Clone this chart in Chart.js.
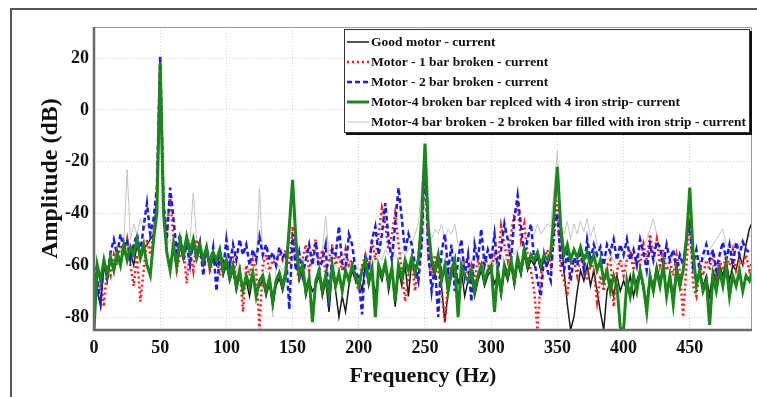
<!DOCTYPE html>
<html>
<head>
<meta charset="utf-8">
<script src="https://cdn.jsdelivr.net/npm/chart.js@4.4.1/dist/chart.umd.min.js"></script>
<style>
  html, body { margin: 0; padding: 0; background: #fff; }
  #wrap { position: relative; width: 757px; height: 397px; overflow: hidden; }
  #frame { position: absolute; left: 10px; top: 8px; width: 800px; height: 420px;
           border-left: 2px solid #555; border-top: 2px solid #555; }
  canvas { position: absolute; left: 0; top: 0; }
</style>
</head>
<body>
<div id="wrap">
  <div id="frame"></div>
  <canvas id="spectrum" width="757" height="397"></canvas>
</div>
<script>
// spectrum sampled every 2.5 Hz, starting at 0 Hz
const FREQ_STEP = 2.5;

const labels = [
  "Good motor - current",
  "Motor - 1 bar broken - current",
  "Motor - 2 bar broken - current",
  "Motor-4 broken bar replced with 4 iron strip- current",
  "Motor-4 bar broken - 2 broken bar filled with iron strip - current"
];

const xTicks = [0, 50, 100, 150, 200, 250, 300, 350, 400, 450];
const yTicks = [-80, -60, -40, -20, 0, 20];

// amplitudes in dB, one row = 50 Hz
const goodMotor = [
  -62,-70,-76,-60,-66,-58,-62,-56,-60,-54,-58,-55,-60,-52,-58,-54,-52,-50,-48,-35,
  18,-40,-56,-60,-54,-62,-52,-58,-51,-56,-52,-58,-54,-60,-55,-62,-57,-60,-56,-64,
  -60,-66,-62,-70,-64,-68,-66,-72,-64,-70,-68,-66,-72,-67,-76,-68,-65,-70,-64,-48,
  -30,-52,-66,-62,-72,-66,-70,-68,-64,-72,-66,-78,-62,-70,-80,-72,-78,-68,-62,-66,
  -64,-70,-60,-68,-62,-72,-62,-66,-60,-70,-62,-76,-62,-68,-60,-72,-58,-64,-56,-42,
  -16,-48,-60,-64,-58,-68,-82,-70,-64,-60,-67,-62,-72,-66,-64,-72,-66,-62,-68,-64,
  -62,-67,-64,-72,-62,-66,-60,-68,-59,-64,-56,-62,-58,-60,-57,-62,-58,-60,-56,-42,
  -24,-48,-62,-75,-85,-80,-70,-62,-66,-60,-68,-62,-70,-78,-85,-70,-66,-72,-64,-70,
  -66,-70,-64,-72,-66,-62,-70,-74,-64,-68,-60,-66,-62,-70,-64,-72,-60,-66,-62,-52,
  -32,-56,-66,-62,-68,-64,-72,-62,-66,-60,-64,-58,-66,-60,-62,-56,-60,-52,-46,-43
];

const oneBar = [
  -62,-70,-66,-76,-60,-64,-56,-60,-52,-56,-50,-60,-68,-56,-74,-62,-50,-56,-48,-34,
  19,-38,-48,-33,-50,-62,-56,-52,-67,-54,-62,-50,-56,-60,-54,-62,-58,-56,-64,-58,
  -60,-62,-56,-66,-62,-78,-60,-64,-58,-62,-85,-60,-56,-62,-58,-60,-55,-58,-54,-60,
  -45,-60,-66,-58,-52,-62,-56,-50,-60,-54,-64,-58,-52,-60,-56,-62,-54,-60,-58,-66,
  -70,-60,-56,-62,-50,-58,-48,-38,-44,-54,-48,-40,-52,-62,-74,-64,-58,-70,-60,-50,
  -18,-58,-64,-56,-62,-70,-82,-66,-60,-64,-78,-62,-58,-64,-60,-66,-58,-62,-56,-60,
  -62,-56,-60,-45,-52,-58,-48,-40,-37,-50,-44,-56,-62,-70,-85,-64,-58,-54,-60,-50,
  -35,-62,-66,-72,-60,-58,-64,-56,-60,-66,-58,-62,-74,-64,-70,-60,-58,-76,-62,-58,
  -64,-58,-54,-62,-56,-60,-52,-58,-48,-56,-50,-60,-54,-62,-58,-64,-56,-62,-80,-60,
  -42,-68,-72,-60,-64,-58,-62,-56,-64,-58,-62,-56,-60,-54,-62,-58,-60,-56,-62,-58
];

const twoBar = [
  -60,-66,-74,-58,-65,-55,-50,-56,-48,-54,-50,-58,-52,-48,-55,-45,-36,-48,-42,-30,
  21,-35,-50,-30,-42,-55,-48,-58,-52,-60,-50,-56,-51,-64,-54,-60,-53,-70,-56,-62,
  -50,-60,-52,-58,-50,-56,-52,-60,-54,-58,-49,-56,-52,-58,-55,-60,-53,-57,-55,-77,
  -48,-62,-55,-64,-58,-52,-60,-51,-62,-58,-52,-76,-54,-56,-45,-60,-62,-48,-52,-62,
  -66,-79,-56,-62,-50,-45,-56,-48,-36,-50,-58,-44,-30,-42,-55,-48,-52,-60,-66,-52,
  -18,-55,-70,-60,-80,-55,-48,-62,-52,-70,-58,-50,-64,-56,-74,-52,-58,-46,-60,-54,
  -58,-48,-62,-54,-44,-50,-58,-42,-33,-45,-56,-50,-44,-58,-66,-72,-56,-62,-66,-45,
  -40,-58,-62,-55,-66,-57,-60,-54,-62,-50,-58,-52,-56,-53,-60,-52,-55,-50,-58,-52,
  -56,-50,-58,-54,-60,-50,-55,-62,-52,-58,-51,-53,-60,-52,-58,-54,-62,-56,-60,-50,
  -44,-60,-54,-62,-56,-52,-58,-54,-62,-56,-51,-58,-52,-60,-51,-56,-51,-54,-55,-56
];

const ironStrip = [
  -85,-60,-66,-58,-64,-57,-62,-55,-60,-52,-58,-53,-56,-50,-57,-52,-60,-64,-50,-40,
  18,-40,-55,-62,-52,-60,-50,-56,-49,-55,-50,-57,-52,-58,-53,-60,-55,-58,-54,-62,
  -58,-65,-60,-68,-62,-70,-64,-68,-63,-72,-66,-64,-70,-65,-74,-66,-63,-68,-62,-45,
  -27,-50,-64,-60,-70,-65,-82,-66,-62,-70,-64,-72,-60,-68,-63,-70,-62,-66,-60,-64,
  -68,-62,-58,-66,-61,-80,-60,-64,-59,-67,-61,-74,-60,-65,-58,-62,-57,-63,-58,-42,
  -13,-45,-58,-62,-56,-66,-60,-70,-62,-58,-80,-60,-64,-66,-62,-70,-64,-60,-66,-62,
  -60,-78,-62,-70,-60,-64,-58,-66,-57,-62,-54,-60,-56,-58,-55,-60,-56,-58,-55,-40,
  -22,-45,-56,-52,-58,-54,-57,-53,-58,-55,-60,-56,-62,-58,-66,-62,-70,-64,-68,-84,
  -85,-66,-72,-64,-70,-62,-68,-78,-64,-70,-62,-68,-60,-72,-64,-75,-62,-68,-62,-50,
  -30,-55,-68,-62,-70,-66,-83,-64,-70,-62,-68,-60,-72,-64,-68,-62,-70,-64,-66,-62
];

const ironFilled = [
  -64,-62,-66,-60,-62,-58,-60,-56,-54,-52,-23,-50,-44,-48,-42,-46,-44,-48,-46,-30,
  16,-38,-52,-50,-54,-52,-56,-54,-52,-50,-32,-50,-54,-56,-55,-58,-56,-58,-57,-60,
  -58,-60,-59,-62,-60,-62,-60,-63,-61,-60,-30,-58,-62,-64,-80,-62,-60,-62,-60,-45,
  -28,-52,-60,-58,-62,-60,-58,-60,-56,-54,-41,-56,-62,-60,-62,-58,-60,-58,-62,-60,
  -62,-60,-58,-62,-60,-58,-56,-58,-54,-56,-52,-56,-58,-55,-56,-54,-52,-48,-44,-30,
  -15,-46,-50,-46,-48,-44,-50,-46,-48,-44,-52,-56,-58,-60,-58,-56,-58,-60,-58,-60,
  -58,-60,-58,-56,-58,-56,-54,-56,-54,-52,-54,-52,-50,-48,-44,-48,-46,-44,-45,-30,
  -16,-44,-48,-43,-50,-44,-48,-43,-47,-42,-49,-45,-52,-54,-56,-58,-56,-58,-60,-58,
  -60,-58,-56,-58,-56,-54,-52,-50,-46,-42,-48,-54,-56,-58,-56,-58,-60,-58,-56,-46,
  -34,-54,-58,-56,-58,-56,-54,-52,-50,-48,-46,-52,-54,-56,-54,-52,-50,-52,-48,-50
];

const SERIF = "'Liberation Serif', 'Times New Roman', serif";

const toPoints = amps => amps.map((y, i) => ({ x: i * FREQ_STEP, y }));

const datasets = [
  { label: labels[0], data: toPoints(goodMotor), borderColor: "#1a1a1a", borderWidth: 1.5, order: 4 },
  { label: labels[1], data: toPoints(oneBar), borderColor: "#ff1a1a", borderWidth: 2.5, borderDash: [2, 3], order: 3 },
  { label: labels[2], data: toPoints(twoBar), borderColor: "#1c1ce6", borderWidth: 2.5, borderDash: [5, 3], order: 2 },
  { label: labels[3], data: toPoints(ironStrip), borderColor: "#1b861b", borderWidth: 3, order: 1 },
  { label: labels[4], data: toPoints(ironFilled), borderColor: "#c4c4c4", borderWidth: 1, order: 5 }
];

// plot frame: thin grey top/right, heavier left/bottom
const framePlugin = {
  id: "frame",
  afterDatasetsDraw(chart) {
    const { ctx, chartArea: a } = chart;
    ctx.save();
    ctx.strokeStyle = "#9a9a9a";
    ctx.lineWidth = 1;
    ctx.beginPath();
    ctx.moveTo(a.left, a.top + 0.5);
    ctx.lineTo(a.right - 0.5, a.top + 0.5);
    ctx.lineTo(a.right - 0.5, a.bottom);
    ctx.stroke();
    ctx.strokeStyle = "#6a6a6a";
    ctx.lineWidth = 2.5;
    ctx.beginPath();
    ctx.moveTo(a.left, a.top);
    ctx.lineTo(a.left, a.bottom);
    ctx.lineTo(a.right, a.bottom);
    ctx.stroke();
    ctx.restore();
  }
};

// boxed legend inside the top right of the plot
const legendPlugin = {
  id: "boxLegend",
  afterDraw(chart) {
    const { ctx } = chart;
    const x = 344, y = 29, w = 405, h = 103;
    ctx.save();
    ctx.fillStyle = "#111";
    ctx.fillRect(x + 2, y + 2, w + 1, h + 1);
    ctx.fillStyle = "#fff";
    ctx.fillRect(x, y, w, h);
    ctx.strokeStyle = "#333";
    ctx.lineWidth = 1;
    ctx.strokeRect(x + 0.5, y + 0.5, w, h);
    ctx.font = "bold 13.5px " + SERIF;
    ctx.textBaseline = "middle";
    chart.data.datasets.forEach((ds, i) => {
      const yy = y + 13 + i * 20;
      ctx.strokeStyle = ds.borderColor;
      ctx.lineWidth = ds.borderWidth;
      ctx.setLineDash(ds.borderDash || []);
      ctx.beginPath();
      ctx.moveTo(x + 3, yy);
      ctx.lineTo(x + 25, yy);
      ctx.stroke();
      ctx.setLineDash([]);
      ctx.fillStyle = "#111";
      ctx.fillText(ds.label, x + 27, yy + 1);
    });
    ctx.restore();
  }
};

const tickFont = { family: SERIF, size: 18, weight: "bold" };

new Chart(document.getElementById("spectrum"), {
  type: "line",
  data: { datasets },
  options: {
    responsive: false,
    animation: false,
    layout: { padding: { left: 0, right: 5, top: 27, bottom: 0 } },
    plugins: { legend: { display: false }, tooltip: { enabled: false } },
    elements: { point: { radius: 0 }, line: { tension: 0 } },
    scales: {
      x: {
        type: "linear",
        min: 0,
        max: 497,
        afterFit: s => { s.height = 67; },
        afterBuildTicks: s => { s.ticks = xTicks.map(v => ({ value: v })); },
        ticks: { color: "#111", font: tickFont, padding: 8, maxRotation: 0 },
        grid: { color: "#d4d4d4", drawTicks: false },
        border: { display: false, dash: [1, 2] },
        title: { display: true, text: "Frequency (Hz)", color: "#111",
                 font: { family: SERIF, size: 22, weight: "bold" }, padding: { top: 0, bottom: 7 } }
      },
      y: {
        min: -85,
        max: 32,
        afterFit: s => { s.width = 94; },
        afterBuildTicks: s => { s.ticks = yTicks.map(v => ({ value: v })); },
        ticks: { color: "#111", font: tickFont, padding: 5 },
        grid: { color: "#d4d4d4", drawTicks: false },
        border: { display: false, dash: [1, 2] },
        title: { display: true, text: "Amplitude (dB)", color: "#111",
                 font: { family: SERIF, size: 24, weight: "bold" }, padding: { top: 36, bottom: 0 } }
      }
    }
  },
  plugins: [framePlugin, legendPlugin]
});
</script>
</body>
</html>
